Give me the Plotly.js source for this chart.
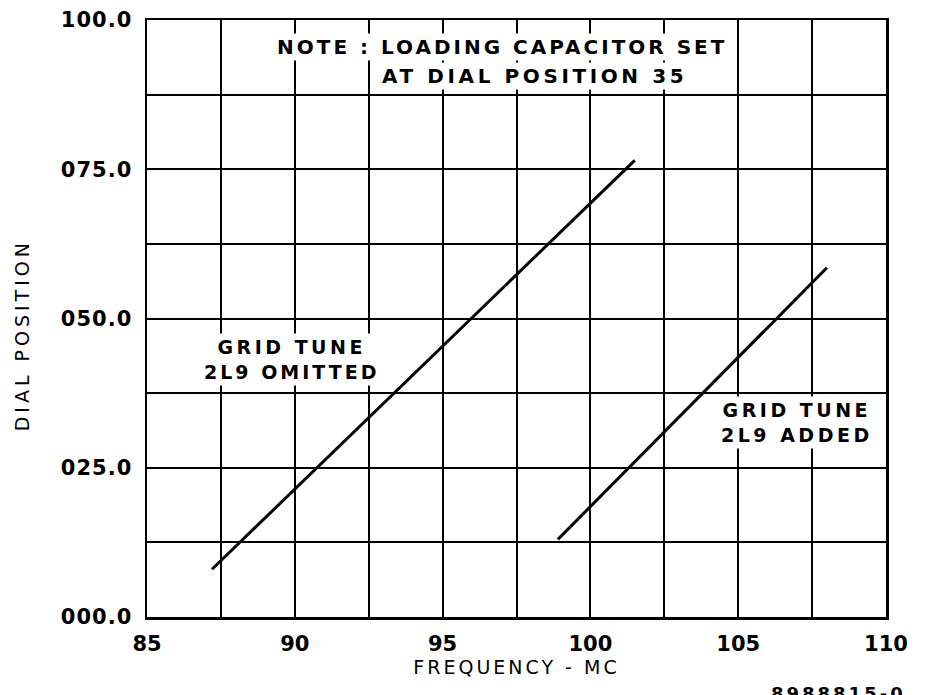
<!DOCTYPE html>
<html>
<head>
<meta charset="utf-8">
<script src="https://cdn.plot.ly/plotly-3.0.1.min.js"></script>
<style>html,body{margin:0;padding:0;background:#fff;}#chart{width:930px;height:695px;}</style>
</head>
<body>
<div id="chart"></div>
<script>
// Data
const omittedFreq = [87.2, 101.5];
const omittedDial = [8.0, 76.5];
const addedFreq = [98.9, 108.0];
const addedDial = [13.0, 58.5];

const xTickVals = [85, 90, 95, 100, 105, 110];
const xTickText = ['85', '90', '95', '100', '105', '110'];
const xMinorVals = [87.5, 92.5, 97.5, 102.5, 107.5];
const yTickVals = [0, 25, 50, 75, 100];
const yTickText = ['000.0', '025.0', '050.0', '075.0', '100.0'];
const yMinorVals = [12.5, 37.5, 62.5, 87.5];

const FONT = 'DejaVu Sans, Liberation Sans, Arial, sans-serif';
const lineStyle = {color: '#000', width: 3};
const sp = (t, s) => '<span style="letter-spacing:' + s + 'px">' + t + '</span>';

const traces = [
  {x: omittedFreq, y: omittedDial, mode: 'lines', line: lineStyle, showlegend: false, hoverinfo: 'skip'},
  {x: addedFreq, y: addedDial, mode: 'lines', line: lineStyle, showlegend: false, hoverinfo: 'skip'}
];

const GRIDW = 2;
const layout = {
  width: 930, height: 695,
  margin: {l: 147, r: 44, t: 20, b: 78},
  paper_bgcolor: '#fff', plot_bgcolor: '#fff',
  showlegend: false,
  font: {family: FONT, color: '#000'},
  xaxis: {
    range: [85, 110], tickmode: 'array', tickvals: xTickVals, ticktext: xTickText,
    showgrid: true, gridcolor: '#000', gridwidth: GRIDW,
    minor: {tickmode: 'array', tickvals: xMinorVals, showgrid: true, gridcolor: '#000', gridwidth: GRIDW},
    showline: true, linecolor: '#000', linewidth: 2.5, mirror: true,
    ticks: '', zeroline: false, ticklabelstandoff: 6,
    tickfont: {family: FONT, size: 21, color: '#000', weight: 'bold'},
    title: {text: sp('FREQUENCY - MC', 3), font: {family: FONT, size: 19, color: '#000'}, standoff: 6}
  },
  yaxis: {
    range: [0, 100], tickmode: 'array', tickvals: yTickVals,
    ticktext: yTickText.map(t => sp(t, 1)),
    showgrid: true, gridcolor: '#000', gridwidth: GRIDW,
    minor: {tickmode: 'array', tickvals: yMinorVals, showgrid: true, gridcolor: '#000', gridwidth: GRIDW},
    showline: true, linecolor: '#000', linewidth: 2.5, mirror: true,
    ticks: '', zeroline: false, ticklabelstandoff: 8,
    tickfont: {family: FONT, size: 21, color: '#000', weight: 'bold'}
  },
  annotations: [
    {xref: 'paper', yref: 'paper', x: -0.169, y: 0.472, xanchor: 'center', yanchor: 'middle', textangle: -90,
     text: sp('DIAL POSITION', 4), showarrow: false, font: {family: FONT, size: 19, color: '#000'}},
    {xref: 'paper', yref: 'paper', x: 0.48, y: 0.955, xanchor: 'center', yanchor: 'middle',
     text: '<b>' + sp('NOTE : LOADING CAPACITOR SET', 3) + '</b>', showarrow: false,
     font: {family: FONT, size: 20, color: '#000'}, bgcolor: '#fff', borderpad: 1},
    {xref: 'paper', yref: 'paper', x: 0.525, y: 0.906, xanchor: 'center', yanchor: 'middle',
     text: '<b>' + sp('AT DIAL POSITION 35', 3.6) + '</b>', showarrow: false,
     font: {family: FONT, size: 20, color: '#000'}, bgcolor: '#fff', borderpad: 1},
    {xref: 'x', yref: 'y', x: 89.9, y: 43.2, text: '<b>' + sp('GRID TUNE', 3.5) + '<br>' + sp('2L9 OMITTED', 3) + '</b>', showarrow: false,
     align: 'center', font: {family: FONT, size: 19, color: '#000'}, bgcolor: '#fff', borderpad: 2},
    {xref: 'x', yref: 'y', x: 107.0, y: 32.6, text: '<b>' + sp('GRID TUNE', 3.5) + '<br>' + sp('2L9 ADDED', 3.5) + '</b>', showarrow: false,
     align: 'center', font: {family: FONT, size: 19, color: '#000'}, bgcolor: '#fff', borderpad: 2},
    {xref: 'paper', yref: 'paper', x: 1.03, y: -0.108, xanchor: 'right', yanchor: 'top',
     text: '<b>' + sp('8988815-0', 3) + '</b>', showarrow: false, font: {family: FONT, size: 18, color: '#000'}}
  ]
};

Plotly.newPlot('chart', traces, layout, {displayModeBar: false, staticPlot: true});
</script>
</body>
</html>
